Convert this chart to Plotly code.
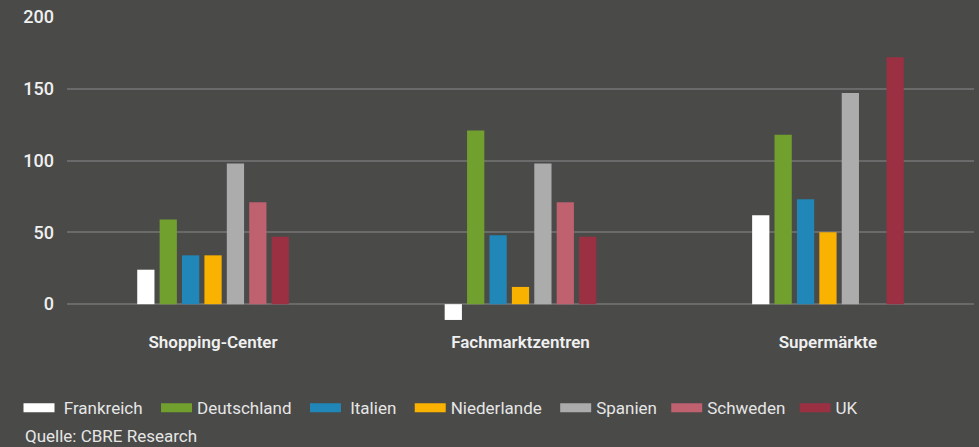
import plotly.graph_objects as go

categories = ["Shopping-Center", "Fachmarktzentren", "Supermärkte"]
countries = ["Frankreich", "Deutschland", "Italien", "Niederlande", "Spanien", "Schweden", "UK"]
frankreich = [24, -11, 62]
deutschland = [59, 121, 118]
italien = [34, 48, 73]
niederlande = [34, 12, 50]
spanien = [98, 98, 147]
schweden = [71, 71, None]
uk = [47, 47, 172]
y_ticks = [0, 50, 100, 150, 200]

series = [frankreich, deutschland, italien, niederlande, spanien, schweden, uk]
colors = ["#ffffff", "#72a02e", "#2087b8", "#fab200", "#acacac", "#bf616f", "#9b3043"]

BG = "#4a4a48"
FONT = "Roboto"
NB = "\u00a0"
lead = {"Frankreich": NB, "Italien": NB}
trail = {"Spanien": NB, "Schweden": NB}

fig = go.Figure()
for name, vals, col in zip(countries, series, colors):
    fig.add_trace(go.Bar(x=categories, y=vals, name=name, marker_color=col,
                         marker_line_width=0, showlegend=False))
# legend entries drawn as wide swatches
for name, col in zip(countries, colors):
    fig.add_trace(go.Scatter(x=[None], y=[None], mode="lines",
                             name=lead.get(name, "") + name + trail.get(name, NB + NB),
                             line=dict(color=col, width=9), showlegend=True))

fig.update_layout(
    width=979, height=447,
    paper_bgcolor=BG, plot_bgcolor=BG,
    margin=dict(l=67, r=5, t=17, b=117),
    barmode="group", bargap=0.49, bargroupgap=0.23,
    font=dict(family=FONT, color="#ececec"),
    xaxis=dict(range=[-0.475, 2.475], showgrid=False, showline=False, zeroline=False,
               tickfont=dict(size=17, weight=600, color="#f0f0f0"), ticks=""),
    yaxis=dict(range=[-18, 200], tickvals=y_ticks, showgrid=True, gridcolor="#6a6a6a",
               gridwidth=2, zeroline=True, zerolinecolor="#6a6a6a", zerolinewidth=2,
               tickfont=dict(size=18, weight=500, color="#f0f0f0"), ticklabelstandoff=12,
               showline=False),
    legend=dict(orientation="h", xref="container", yref="container",
                x=0.0189, y=0.087, xanchor="left", yanchor="middle",
                font=dict(size=17, color="#e6e6e6"), itemwidth=31,
                bgcolor="rgba(0,0,0,0)", traceorder="normal"),
    annotations=[dict(text="Quelle: CBRE Research", xref="paper", yref="paper",
                      x=-0.0485, y=-0.34, xanchor="left", yanchor="middle",
                      showarrow=False, font=dict(size=17, color="#e6e6e6"))],
)

fig.write_html("out.html", config={"displayModeBar": False},
               post_script="document.body.style.margin='0';document.body.style.overflow='hidden';")
